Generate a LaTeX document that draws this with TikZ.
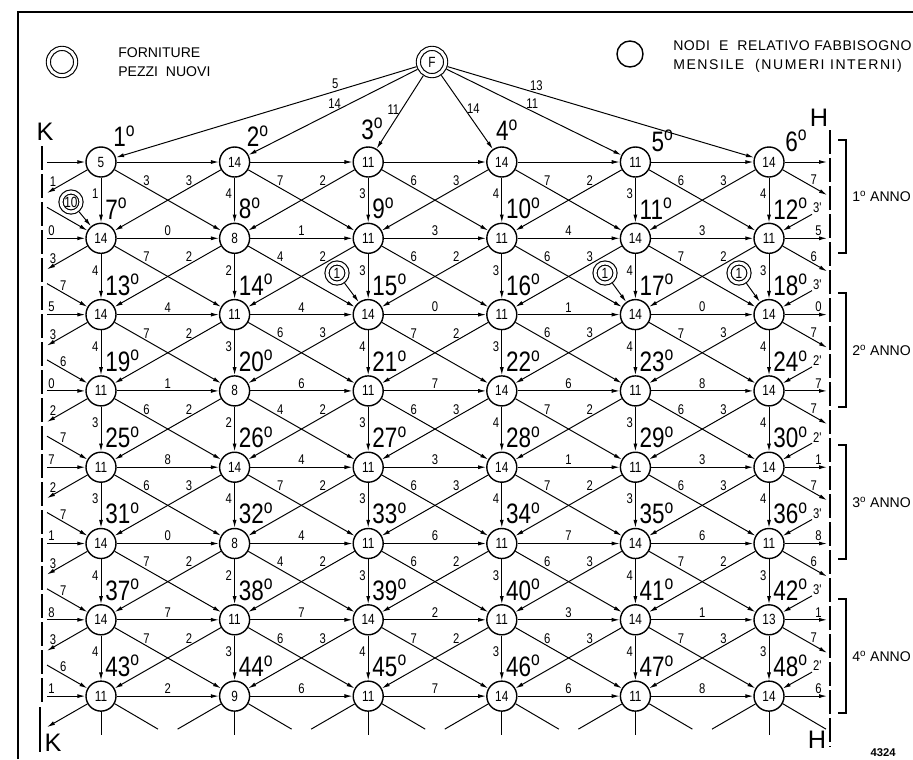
\documentclass[tikz,border=0pt]{standalone}
\usepackage{fontspec}
\setmainfont{Liberation Sans}
\newfontfamily\narrowsans{Liberation Sans}[FakeStretch=0.8]
\newfontfamily\widesans{Liberation Sans}[LetterSpace=11]
\newfontfamily\lightwide{Liberation Sans}[LetterSpace=4]
\usetikzlibrary{positioning,arrows.meta,calc}

\begin{document}
\begin{tikzpicture}[x=0.025cm, y=-0.025cm,
  knot/.style={circle, draw, line width=1pt, minimum size=0.75cm, inner sep=0pt,
    font=\narrowsans\fontsize{10.5}{10}\selectfont},
  source/.style={circle, draw, double, double distance=2.1pt, line width=0.8pt,
    minimum size=0.68cm, inner sep=0pt, outer sep=1.9pt,
    font=\narrowsans\fontsize{10.5}{10}\selectfont},
  supply/.style={source, minimum size=0.5cm},
  flow/.style={line width=0.7pt, -{Latex[length=0.2cm,width=0.1cm]}},
  stub/.style={line width=0.7pt},
  lab/.style={font=\narrowsans\fontsize{10}{10}\selectfont, inner sep=1.5pt},
  month/.style={font=\narrowsans\fontsize{20}{20}\selectfont, inner sep=0pt, anchor=south west},
  legend/.style={font=\fontsize{10}{13.5}\selectfont, inner sep=0pt, anchor=north west, align=left},
  letter/.style={font=\fontsize{18}{18}\selectfont, inner sep=0pt},
  year/.style={font=\fontsize{10}{10}\selectfont, inner sep=0pt, anchor=west},
  limit/.style={line width=0.8pt, dash pattern=on 0.6cm off 0.1cm}
]
\useasboundingbox (0,0) rectangle (913,759);
\draw[line width=1pt] (18,759) -- (18,12) -- (913,12);

% legend
\node[source] (legF) at (62,62) {};
\node[legend] (legFtxt) at (118,47) {FORNITURE\\PEZZI\ \ NUOVI};
\node[circle, draw, line width=1pt, minimum size=0.65cm] (legN) at (630,54) {};
\node[legend] (legNtxt) at (673,40) {{\lightwide NODI\ \ E\ \ RELATIVO FABBISOGNO}\\{\widesans MENSILE\ \ (NUMERI INTERNI)}};

% grid of nodes
\foreach \v [count=\i] in {5,14,11,14,11,14, 14,8,11,11,14,11, 14,11,14,11,14,14,
    11,8,11,14,11,14, 11,14,11,14,11,14, 14,8,11,11,14,11, 14,11,14,11,14,13,
    11,9,11,14,11,14}{
  \pgfmathsetmacro\cx{101+133.6*mod(\i-1,6)}
  \pgfmathsetmacro\cy{162+76.3*floor((\i-1)/6)}
  \node[knot] (n\i) at (\cx,\cy) {\v};
}
\foreach \i/\dx/\dy in {1/12/-15, 2/12/-15, 3/-7/-22, 4/-6/-21, 5/16/-10, 6/16/-10}
  \node[month] (m\i) at ($(n\i)+(\dx,\dy)$) {\i\textsuperscript{o}};
\foreach \i in {7,...,48}
  \node[month] (m\i) at ($(n\i)+(4,-19)$) {\i\textsuperscript{o}};

% free ends on K and H
\foreach \r in {1,...,8}{
  \pgfmathsetmacro\y{162+76.3*(\r-1)}
  \coordinate (kh\r) at (47,\y);
  \coordinate (kd\r) at (47,\y-31);
  \coordinate (ko\r) at (47,\y+31);
  \coordinate (hh\r) at (827,\y);
  \coordinate (hd\r) at (812,\y-24);
  \coordinate (ho\r) at (827,\y+33);
}

% vertical
\foreach \l [count=\i] in {1,4,3,4,3,4, 4,2,3,3,4,3, 4,3,4,3,4,4, 3,2,3,4,3,4,
    3,4,3,4,3,4, 4,2,3,3,4,3, 4,3,4,3,4,3}{
  \pgfmathtruncatemacro\j{\i+6}
  \draw[flow] (n\i) -- node[lab, anchor=east, pos=0.36] {\l} (n\j);
}
% horizontal
\foreach \i in {1,...,5}{
  \pgfmathtruncatemacro\j{\i+1}
  \draw[flow] (n\i) -- (n\j);
}
\foreach \i/\l in {7/0,8/1,9/3,10/4,11/3, 13/4,14/4,15/0,16/1,17/0,
    19/1,20/6,21/7,22/6,23/8, 25/8,26/4,27/3,28/1,29/3, 31/0,32/4,33/6,34/7,35/6,
    37/7,38/7,39/2,40/3,41/1, 43/2,44/6,45/7,46/6,47/8}{
  \pgfmathtruncatemacro\j{\i+1}
  \draw[flow] (n\i) -- node[lab, anchor=south] {\l} (n\j);
}
% crossing diagonals
\foreach \i/\a/\b in {1/3/3,2/7/2,3/6/3,4/7/2,5/6/3, 7/7/2,8/4/2,9/6/2,10/6/3,11/7/2,
    13/7/2,14/6/3,15/7/2,16/6/3,17/7/3, 19/6/2,20/4/2,21/6/3,22/7/2,23/6/3,
    25/6/3,26/7/2,27/6/3,28/7/2,29/6/3, 31/7/2,32/4/2,33/6/2,34/6/3,35/7/2,
    37/7/2,38/6/3,39/7/2,40/6/3,41/7/3}{
  \pgfmathtruncatemacro\j{\i+7}
  \pgfmathtruncatemacro\k{\i+1}
  \pgfmathtruncatemacro\m{\i+6}
  \draw[flow] (n\i) -- node[lab, anchor=south, pos=0.3] {\a} (n\j);
  \draw[flow] (n\k) -- node[lab, anchor=south, pos=0.3] {\b} (n\m);
}

% K side
\foreach \r/\l in {1/{},2/0,3/5,4/0,5/7,6/1,7/8,8/1}{
  \pgfmathtruncatemacro\i{6*\r-5}
  \draw[flow] (kh\r) -- node[lab, anchor=south, pos=0.12] {\l} (n\i);
}
\foreach \r/\l in {2/{},3/7,4/6,5/7,6/7,7/7,8/6}{
  \pgfmathtruncatemacro\i{6*\r-5}
  \draw[flow] (kd\r) -- node[lab, anchor=south, pos=0.4] {\l} (n\i);
}
\foreach \r/\l in {1/1,2/3,3/3,4/2,5/2,6/3,7/3,8/{}}{
  \pgfmathtruncatemacro\i{6*\r-5}
  \draw[flow] (n\i) -- node[lab, anchor=south, pos=0.85] {\l} (ko\r);
}
% H side
\foreach \r/\l in {1/{},2/5,3/0,4/7,5/1,6/8,7/1,8/6}{
  \pgfmathtruncatemacro\i{6*\r}
  \draw[flow] (n\i) -- node[lab, anchor=south, pos=0.8] {\l} (hh\r);
}
\foreach \r/\l in {1/7,2/6,3/7,4/7,5/7,6/6,7/7}{
  \pgfmathtruncatemacro\i{6*\r}
  \draw[flow] (n\i) -- node[lab, anchor=south, pos=0.7] {\l} (ho\r);
}
\foreach \r/\l in {2/3',3/3',4/2',5/2',6/3',7/3',8/2'}{
  \pgfmathtruncatemacro\i{6*\r}
  \draw[flow] (hd\r) -- node[lab, anchor=south west, pos=0, inner sep=0.5pt] {\l} (n\i);
}

% loose ends below the last row
\foreach \i in {43,...,48}{
  \draw[stub] (n\i.south) -- ($(n\i)+(0,39)$);
  \draw[stub] (n\i.-29.7) -- ($(n\i)+(57,33)$);
}
\foreach \i in {44,...,48}
  \draw[stub] (n\i.-150.3) -- ($(n\i)+(-57,33)$);

% supplies
\node[source] (F) at (432,62) {F};
\foreach \j/\l/\p/\a in {1/5/0.27/south, 2/14/0.49/south, 3/11/0.46/east,
    4/14/0.45/west, 5/11/0.49/south, 6/13/0.29/south}
  \draw[flow] (F) -- node[lab, anchor=\a, pos=\p] {\l} (n\j);
\node[supply] (s7) at (71,202) {10};
\node[supply] (s15) at (337,273) {1};
\node[supply] (s17) at (605,273) {1};
\node[supply] (s18) at (739,273) {1};
\foreach \k in {7,15,17,18}
  \draw[flow] (s\k) -- (n\k);

% limits K and H, years
\draw[limit] (42,146) -- (42,703);
\draw[line width=0.8pt] (40,707) -- (40,752);
\node[letter] (K1) at (45,132) {K};
\node[letter] (K2) at (53,743) {K};
\draw[limit] (830,130) -- (830,747);
\node[letter] (H1) at (819,118) {H};
\node[letter] (H2) at (817,740) {H};
\foreach \a/\b/\t in {140/253/1, 293/407/2, 445/559/3, 599/713/4}{
  \draw[line width=0.8pt] (838,\a) -- (846,\a) -- (846,\b) -- (838,\b);
  \node[year] (y\t) at (852,{(\a+\b)/2}) {\t\textsuperscript{o} ANNO};
}
\node[font=\bfseries\fontsize{8}{8}\selectfont, inner sep=0pt] (num) at (883,753) {4324};
\end{tikzpicture}
\end{document}
